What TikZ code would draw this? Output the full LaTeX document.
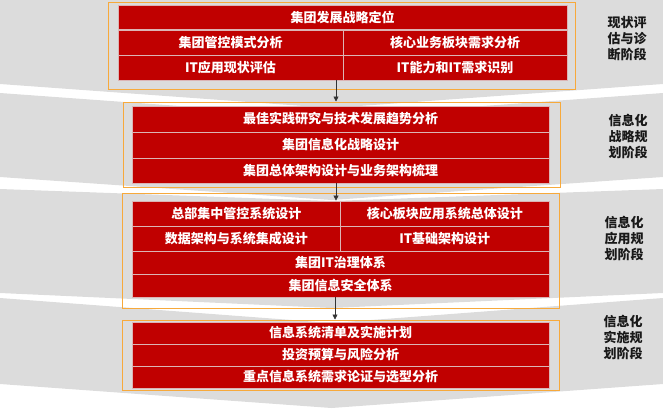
\documentclass[tikz,border=0pt]{standalone}
\usepackage{fontspec}
\newfontfamily\cjk{Noto Sans CJK SC}
\usetikzlibrary{arrows.meta}
\definecolor{band}{HTML}{DCDCDC}
\definecolor{cred}{HTML}{C00000}
\definecolor{cline}{HTML}{DCB4B4}
\definecolor{orng}{HTML}{F7A93B}
\tikzset{
  bandfill/.style={fill=band, draw=none},
  obox/.style={draw=orng, line width=1pt, fill=none, inner sep=0pt},
  cell/.style={fill=cred, draw=cline, line width=0.8pt, text=white, inner sep=0pt,
    font=\cjk\bfseries\fontsize{13}{14}\selectfont},
  stage/.style={align=center, text=black!90, inner sep=0pt,
    font=\cjk\bfseries\fontsize{13}{16}\selectfont},
  flow/.style={draw=black!80, line width=0.6pt, -{Triangle[length=5pt,width=5pt]}}
}
\begin{document}
\begin{tikzpicture}[x=1pt,y=-1pt]
\useasboundingbox (0,0) rectangle (663,408);
% background chevron bands
\fill[bandfill] (0,0) -- (663,0) -- (663,84) -- (331.5,108) -- (0,84) -- cycle;
\fill[bandfill] (0,93) -- (331.5,117) -- (663,93) -- (663,177) -- (331.5,200) -- (0,177) -- cycle;
\fill[bandfill] (0,189) -- (331.5,201) -- (663,189) -- (663,293) -- (331.5,308) -- (0,293) -- cycle;
\fill[bandfill] (0,298) -- (331.5,323) -- (663,298) -- (663,384) -- (331.5,408) -- (0,384) -- cycle;

% stage 1
\node[obox, minimum width=467pt, minimum height=87pt] (ob1) at (341.5,45.5) {};
\node[cell, minimum width=449pt, minimum height=24pt] (c11) at (342.5,17) {集团发展战略定位};
\node[cell, minimum width=225pt, minimum height=25pt] (c12) at (230.5,42.5) {集团管控模式分析};
\node[cell, minimum width=224pt, minimum height=25pt] (c13) at (455,42.5) {核心业务板块需求分析};
\node[cell, minimum width=225pt, minimum height=25pt] (c14) at (230.5,67.5) {IT应用现状评估};
\node[cell, minimum width=224pt, minimum height=25pt] (c15) at (455,67.5) {IT能力和IT需求识别};
\node[stage] (s1) at (627,39) {现状评\\估与诊\\断阶段};

% stage 2
\node[obox, minimum width=437pt, minimum height=85pt] (ob2) at (341.5,144.5) {};
\node[cell, minimum width=417pt, minimum height=26pt] (c21) at (340.5,119) {最佳实践研究与技术发展趋势分析};
\node[cell, minimum width=417pt, minimum height=26pt] (c22) at (340.5,145) {集团信息化战略设计};
\node[cell, minimum width=417pt, minimum height=25pt] (c23) at (340.5,170.5) {集团总体架构设计与业务架构梳理};
\node[stage] (s2) at (628,137) {信息化\\战略规\\划阶段};

% stage 3
\node[obox, minimum width=437pt, minimum height=115pt] (ob3) at (340.5,250.5) {};
\node[cell, minimum width=208.5pt, minimum height=25pt] (c31) at (236.25,213.5) {总部集中管控系统设计};
\node[cell, minimum width=208.5pt, minimum height=25pt] (c32) at (444.75,213.5) {核心板块应用系统总体设计};
\node[cell, minimum width=208.5pt, minimum height=25pt] (c33) at (236.25,238.5) {数据架构与系统集成设计};
\node[cell, minimum width=208.5pt, minimum height=25pt] (c34) at (444.75,238.5) {IT基础架构设计};
\node[cell, minimum width=417pt, minimum height=23pt] (c35) at (340.5,262.5) {集团IT治理体系};
\node[cell, minimum width=417pt, minimum height=23pt] (c36) at (340.5,285.5) {集团信息安全体系};
\node[stage] (s3) at (624,239) {信息化\\应用规\\划阶段};

% stage 4
\node[obox, minimum width=437pt, minimum height=70pt] (ob4) at (340.5,355) {};
\node[cell, minimum width=417pt, minimum height=22pt] (c41) at (340.5,333) {信息系统清单及实施计划};
\node[cell, minimum width=417pt, minimum height=22pt] (c42) at (340.5,355) {投资预算与风险分析};
\node[cell, minimum width=417pt, minimum height=22pt] (c43) at (340.5,377) {重点信息系统需求论证与选型分析};
\node[stage] (s4) at (623,338) {信息化\\实施规\\划阶段};

% connectors
\coordinate (a1) at (336,80);
\coordinate (a2) at (336,183);
\coordinate (a3) at (335,297);
\draw[flow] (a1) -- (a1 |- ob2.north);
\draw[flow] (a2) -- (a2 |- c31.north);
\draw[flow] (a3) -- (a3 |- ob4.north);
\end{tikzpicture}
\end{document}
